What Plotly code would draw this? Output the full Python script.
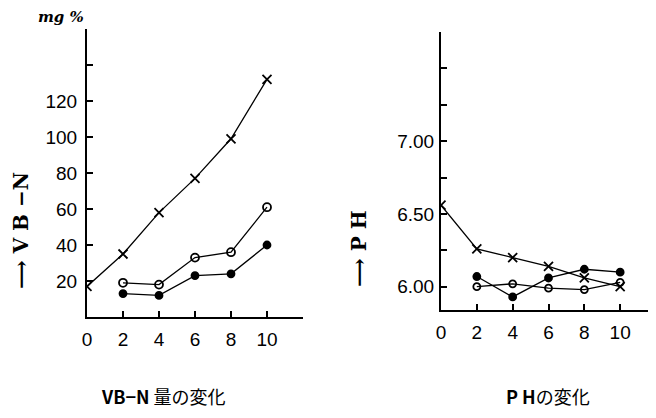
import plotly.graph_objects as go

# ---- data ----
days = [0, 2, 4, 6, 8, 10]
vbn_x = [17, 35, 58, 77, 99, 132]
vbn_open = [None, 19, 18, 33, 36, 61]
vbn_filled = [None, 13, 12, 23, 24, 40]

ph_x = [6.56, 6.26, 6.20, 6.14, 6.06, 6.00]
ph_open = [None, 6.00, 6.02, 5.99, 5.98, 6.03]
ph_filled = [None, 6.07, 5.93, 6.06, 6.12, 6.10]

x_tickvals = [0, 2, 4, 6, 8, 10, 12]
x_ticktext = ["0", "2", "4", "6", "8", "10", ""]
vbn_tickvals = [0, 20, 40, 60, 80, 100, 120, 140, 160]
vbn_ticktext = ["", "20", "40", "60", "80", "100", "120", "", ""]
ph_tickvals = [6.00, 6.25, 6.50, 6.75, 7.00, 7.25, 7.50, 7.75]
ph_ticktext = ["6.00", "", "6.50", "", "7.00", "", "", ""]

PAGE_W, PAGE_H = 656, 418
OFF = 8  # default body margin of the html page
W, H = PAGE_W - OFF, PAGE_H - OFF

def px(x):
    return (x - OFF) / W

def py(y):
    return 1 - (y - OFF) / H

tick_font = dict(family="Liberation Sans, Arial", size=19, color="black")

fig = go.Figure()

def add_series(x, y, symbol, xa, ya, size):
    fig.add_trace(go.Scatter(
        x=x, y=y, mode="lines+markers", xaxis=xa, yaxis=ya,
        line=dict(color="black", width=1.3),
        marker=dict(symbol=symbol, size=size, color="black",
                    line=dict(color="black", width=1.8)),
        showlegend=False, connectgaps=False))

add_series(days, vbn_x, "x-thin", "x", "y", 9)
add_series(days, vbn_open, "circle-open", "x", "y", 8)
add_series(days, vbn_filled, "circle", "x", "y", 7)
add_series(days, ph_x, "x-thin", "x2", "y2", 9)
add_series(days, ph_open, "circle-open", "x2", "y2", 7)
add_series(days, ph_filled, "circle", "x2", "y2", 7)

axis_common = dict(showline=True, linecolor="black", linewidth=2, showgrid=False,
                   zeroline=False, ticks="inside", ticklen=6, tickwidth=1.5,
                   tickcolor="black", tickfont=tick_font, automargin=False)

fig.update_layout(
    width=W, height=H, margin=dict(l=0, r=0, t=0, b=0),
    paper_bgcolor="white", plot_bgcolor="white",
    xaxis=dict(domain=[px(87), px(303)], range=[0, 12], tickvals=x_tickvals,
               ticktext=x_ticktext, anchor="y", ticklabelstandoff=4, **axis_common),
    yaxis=dict(domain=[py(317), py(29)], range=[0, 160], tickvals=vbn_tickvals,
               ticktext=vbn_ticktext, anchor="x", ticklabelstandoff=4, **axis_common),
    xaxis2=dict(domain=[px(441), 1.0], range=[0, 12], tickvals=x_tickvals,
                ticktext=x_ticktext, anchor="y2", ticklabelstandoff=4, **axis_common),
    yaxis2=dict(domain=[py(310), py(32)], range=[5.84, 7.75], tickvals=ph_tickvals,
                ticktext=ph_ticktext, anchor="x2", ticklabelstandoff=1, **axis_common),
)

def ann(text, x, y, size, rot=0, fam="DejaVu Serif", italic=False):
    fig.add_annotation(text=("<i>%s</i>" % text) if italic else text,
                       x=px(x), y=py(y), xref="paper", yref="paper",
                       xanchor="center", yanchor="middle",
                       showarrow=False, textangle=rot,
                       font=dict(size=size, color="black", family=fam))

ann("<b>mg %</b>", 61, 17, 15, italic=True)
ann("<b>⟶ V B −N</b>", 21, 231, 20, rot=-90)
ann("<b>⟶ P H</b>", 359, 249, 20, rot=-90)
ann("<b>VB−N</b> 量の変化", 163, 396, 18, fam="Noto Sans CJK JP")
ann("<b>P H</b>の変化", 548, 396, 18, fam="Noto Sans CJK JP")

fig.write_html("out.html")
